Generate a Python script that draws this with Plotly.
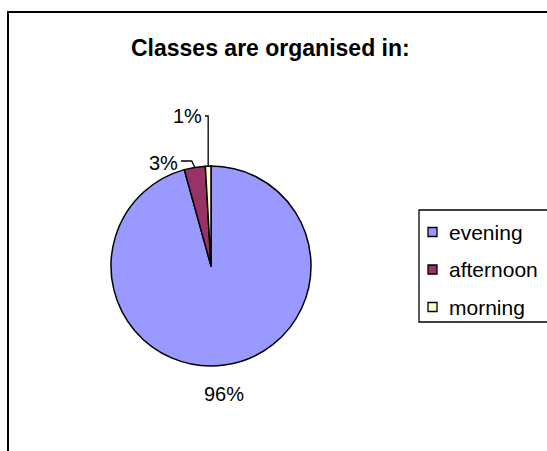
import math
import plotly.graph_objects as go

# ---- data ----
labels = ["evening", "afternoon", "morning"]
values = [95.7, 3.4, 0.9]
colors = ["#9999FF", "#993366", "#FFFFCC"]
title_text = "Classes are organised in:"

W, H = 547, 451
CX, CY, R = 211, 266, 100  # pie centre / radius in pixels


def px(x):
    return x / W


def py(y):
    return 1 - y / H


fig = go.Figure()
fig.add_trace(go.Pie(
    labels=labels,
    values=values,
    sort=False,
    direction="clockwise",
    rotation=0,
    textinfo="none",
    hoverinfo="label+percent",
    marker=dict(colors=colors, line=dict(color="black", width=1.5)),
    domain=dict(x=[px(CX - R), px(CX + R)], y=[py(CY + R), py(CY - R)]),
    showlegend=False,
))

FONT = "Liberation Sans, Arial, sans-serif"
annotations = []
shapes = []

total = sum(values)
cum = 0.0
mids = []
for v in values:
    mids.append((cum + v / 2) / total * 2 * math.pi)
    cum += v
pcts = [round(v / total * 100) for v in values]


def edge(a, r=R):
    return CX + r * math.sin(a), CY - r * math.cos(a)


def label(x, y, text, size=20, xanchor="center", bold=False):
    annotations.append(dict(x=px(x), y=py(y), xref="paper", yref="paper",
                            xanchor=xanchor, yanchor="middle",
                            text=f"<b>{text}</b>" if bold else text,
                            showarrow=False,
                            font=dict(family=FONT, size=size, color="black")))


# evening label: radial
ex, ey = edge(mids[0], R * 1.29)
label(ex - 4, ey, f"{pcts[0]}%")

# afternoon label with leader line
ax_, ay_ = edge(mids[1])
shapes.append(dict(type="path", xref="paper", yref="paper",
                   path=f"M {px(ax_)} {py(ay_)} L {px(ax_ - 3)} {py(161)} L {px(181)} {py(161)}",
                   line=dict(color="black", width=1.3)))
label(180, 163, f"{pcts[1]}%", xanchor="right")

# morning label with leader line
mx, my = edge(mids[2])
shapes.append(dict(type="path", xref="paper", yref="paper",
                   path=f"M {px(mx)} {py(my)} L {px(mx)} {py(116)} L {px(205)} {py(116)}",
                   line=dict(color="black", width=1.3)))
label(204, 116, f"{pcts[2]}%", xanchor="right")

# title
label(270, 48, title_text, size=23, bold=True)

# outer frame
shapes.append(dict(type="rect", xref="paper", yref="paper",
                   x0=px(8), y0=py(470), x1=px(570), y1=py(12),
                   line=dict(color="black", width=2)))

# legend box
shapes.append(dict(type="rect", xref="paper", yref="paper",
                   x0=px(419), y0=py(322), x1=px(570), y1=py(210),
                   line=dict(color="black", width=1.3)))
for i, (lab, col) in enumerate(zip(labels, colors)):
    yc = 232 + i * 37.5
    shapes.append(dict(type="rect", xref="paper", yref="paper",
                       x0=px(428), x1=px(437), y0=py(yc + 4.5), y1=py(yc - 4.5),
                       fillcolor=col, line=dict(color="black", width=1.3)))
    label(447, yc, lab, size=21, xanchor="left")

fig.update_layout(
    width=W, height=H,
    margin=dict(l=0, r=0, t=0, b=0),
    paper_bgcolor="white",
    plot_bgcolor="white",
    annotations=annotations,
    shapes=shapes,
    showlegend=False,
)

fig.write_html("out.html",
               config={"displayModeBar": False},
               post_script="document.body.style.margin='0';document.body.style.padding='0';")
